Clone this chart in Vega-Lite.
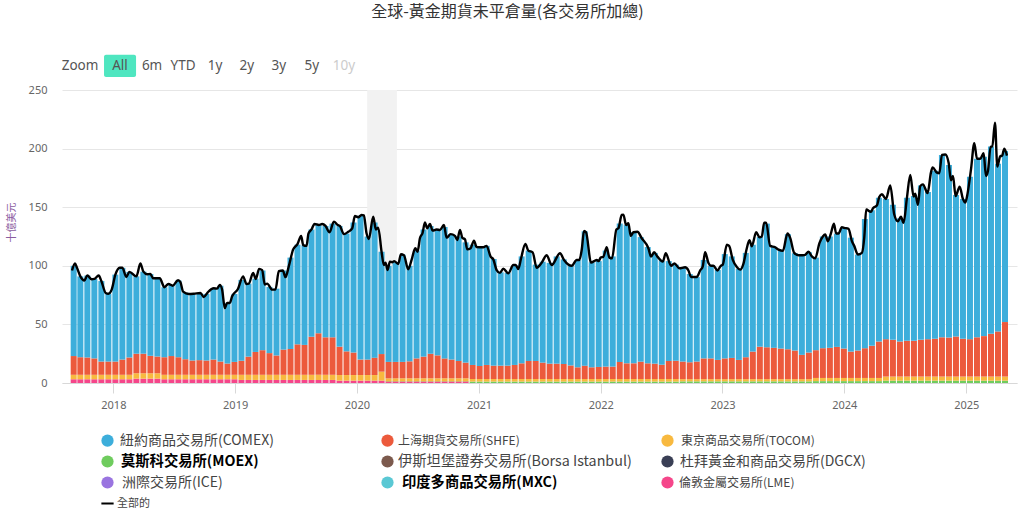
{"$schema":"https://vega.github.io/schema/vega-lite/v6.json","width":955,"height":293,"autosize":"none","padding":{"left":62,"top":90,"right":6,"bottom":130},"background":"white",
"title":{"text":"全球-黃金期貨未平倉量(各交易所加總)","anchor":"middle","dx":-32,"offset":35,"fontSize":16,"fontWeight":"normal","color":"#333333","font":"Noto Sans CJK TC"},
"config":{"view":{"stroke":null},"font":"Noto Sans"},
"datasets":{
"ex":[{"k":"l","name":"倫敦金屬交易所(LME)","rank":1},{"k":"m","name":"莫斯科交易所(MOEX)","rank":2},{"k":"b","name":"伊斯坦堡證券交易所(Borsa Istanbul)","rank":3},{"k":"t","name":"東京商品交易所(TOCOM)","rank":4},{"k":"s","name":"上海期貨交易所(SHFE)","rank":5},{"k":"c","name":"紐約商品交易所(COMEX)","rank":6}],
"band":[{"a":"2020-02-01","z":"2020-04-30"}],
"bars":[
{"d":"2017-09-04","l":3.2,"t":3.8,"s":16,"c":77},{"d":"2017-09-24","l":3.2,"t":3.8,"s":15,"c":69},{"d":"2017-10-15","l":3.2,"t":3.8,"s":14.8,"c":69.9},{"d":"2017-11-05","l":3.2,"t":3.8,"s":14,"c":67.8},{"d":"2017-11-26","l":3.2,"t":3.8,"s":11.3,"c":68.7},{"d":"2017-12-17","l":3.2,"t":3.8,"s":11.3,"c":57.9},
{"d":"2018-01-07","l":3.2,"t":3.8,"s":11.3,"c":74.2},{"d":"2018-01-28","l":3.2,"t":3.8,"s":13,"c":78.3},{"d":"2018-02-18","l":3.2,"t":3.8,"s":14.8,"c":73},{"d":"2018-03-11","l":3.7,"t":4.6,"s":16.7,"c":66},{"d":"2018-04-01","l":3.7,"t":4.6,"s":16.7,"c":70},{"d":"2018-04-22","l":3.7,"t":4.6,"s":14.9,"c":69.8},{"d":"2018-05-13","l":3.7,"t":4.6,"s":14.3,"c":66.8},{"d":"2018-06-03","l":3.2,"t":3.8,"s":15,"c":59.7},{"d":"2018-06-24","l":3.2,"t":3.8,"s":16,"c":60.7},{"d":"2018-07-15","l":3.2,"t":3.8,"s":15,"c":65.5},{"d":"2018-08-05","l":3.2,"t":3.8,"s":13.3,"c":56.7},{"d":"2018-08-26","l":3.2,"t":3.8,"s":12.2,"c":56.8},{"d":"2018-09-16","l":3.2,"t":3.8,"s":12.5,"c":57.2},{"d":"2018-10-07","l":3.2,"t":3.8,"s":12.2,"c":56.8},{"d":"2018-10-28","l":3.2,"t":3.8,"s":13,"c":60.8},{"d":"2018-11-18","l":3.2,"t":3.8,"s":11.3,"c":64.7},{"d":"2018-12-09","l":3.2,"t":3.8,"s":9.6,"c":51.4},{"d":"2018-12-30","l":3.2,"t":3.8,"s":11,"c":58},
{"d":"2019-01-20","l":2.6,"t":4.4,"s":12,"c":69},{"d":"2019-02-10","l":2.6,"t":4.4,"s":15.5,"c":62.3},{"d":"2019-03-03","l":2.6,"t":4.4,"s":19.5,"c":62.5},{"d":"2019-03-24","l":2.6,"t":4.4,"s":21,"c":68},{"d":"2019-04-14","l":2.6,"t":4.4,"s":18.5,"c":56.5},{"d":"2019-05-05","l":2.6,"t":4.4,"s":16.5,"c":57},{"d":"2019-05-26","l":2.6,"t":4.4,"s":21.5,"c":67.5},{"d":"2019-06-16","l":2.6,"t":4.4,"s":22,"c":78},{"d":"2019-07-07","l":2.6,"t":4.4,"s":26,"c":85},{"d":"2019-07-28","l":2.6,"t":4.4,"s":25.5,"c":85},{"d":"2019-08-18","l":2.6,"t":4.4,"s":32.5,"c":91.5},{"d":"2019-09-08","l":2.6,"t":4.4,"s":35.4,"c":92.6},{"d":"2019-09-29","l":2.6,"t":4.4,"s":32,"c":95},{"d":"2019-10-20","l":2.6,"t":4.4,"s":32,"c":97},{"d":"2019-11-10","l":2,"t":4.8,"s":24.2,"c":103},{"d":"2019-12-01","l":2,"t":4.8,"s":20.2,"c":100.5},{"d":"2019-12-22","l":2,"t":4.8,"s":19.2,"c":111},
{"d":"2020-01-12","l":2,"t":4.8,"s":13.2,"c":122.8},{"d":"2020-02-02","l":2,"t":4.8,"s":13.2,"c":105},{"d":"2020-02-23","l":2,"t":4.8,"s":14.8,"c":115.4},{"d":"2020-03-15","l":2,"t":7.7,"s":15,"c":87.3},{"d":"2020-04-05","l":1,"b":0.4,"t":2.6,"s":14,"c":82},{"d":"2020-04-26","l":1,"b":0.4,"t":2.6,"s":14,"c":85},{"d":"2020-05-17","l":1,"b":0.4,"t":2.6,"s":14,"c":91.5},{"d":"2020-06-07","l":1,"b":0.4,"t":2.6,"s":14.5,"c":81.5},{"d":"2020-06-28","l":1,"b":0.4,"t":2.6,"s":17,"c":92},{"d":"2020-07-19","l":1,"b":0.4,"t":2.6,"s":18.5,"c":108.5},{"d":"2020-08-09","l":1,"b":0.4,"t":2.6,"s":21,"c":109},{"d":"2020-08-30","l":1,"b":0.4,"t":2.6,"s":19.6,"c":107.4},{"d":"2020-09-20","l":1,"b":0.4,"t":2.6,"s":17,"c":112},{"d":"2020-10-11","l":1,"b":0.4,"t":2.6,"s":16,"c":107},{"d":"2020-11-01","l":1,"b":0.4,"t":2.6,"s":14.8,"c":106.2},{"d":"2020-11-22","l":1,"b":0.4,"t":2.6,"s":13.4,"c":102.6},{"d":"2020-12-13","m":1.2,"t":2.2,"s":12,"c":102.6},
{"d":"2021-01-03","m":1.2,"t":2.2,"s":11.1,"c":101.5},{"d":"2021-01-24","m":1.2,"t":2.2,"s":12,"c":101.6},{"d":"2021-02-14","m":1.2,"t":2.2,"s":11.4,"c":91},{"d":"2021-03-07","m":1.2,"t":2.2,"s":11.4,"c":79.7},{"d":"2021-03-28","m":1.2,"t":2.2,"s":11.4,"c":79.2},{"d":"2021-04-18","m":1.2,"t":2.2,"s":12,"c":85.3},{"d":"2021-05-09","m":1.2,"t":2.2,"s":13.4,"c":91.2},{"d":"2021-05-30","m":1.2,"t":2.2,"s":15.4,"c":94.2},{"d":"2021-06-20","m":1.2,"t":2.2,"s":15.4,"c":82.2},{"d":"2021-07-11","m":1.2,"t":2.2,"s":14,"c":86.1},{"d":"2021-08-01","m":1.2,"t":2.2,"s":13.1,"c":86},{"d":"2021-08-22","m":1.2,"t":2.2,"s":13.1,"c":91.5},{"d":"2021-09-12","m":1.2,"t":2.2,"s":12.8,"c":89.3},{"d":"2021-10-03","m":1.2,"t":2.2,"s":11.6,"c":85.5},{"d":"2021-10-24","m":1.2,"t":2.2,"s":10,"c":91.6},{"d":"2021-11-14","m":1.2,"t":2.2,"s":11.4,"c":114.7},{"d":"2021-12-05","m":1.2,"t":2.2,"s":10,"c":89.6},{"d":"2021-12-26","m":1.2,"t":2.2,"s":10.3,"c":90.3},
{"d":"2022-01-16","m":1.2,"t":2.2,"s":10.6,"c":99},{"d":"2022-02-06","m":1.2,"t":2.2,"s":10.6,"c":94},{"d":"2022-02-27","m":1.2,"t":2.2,"s":14.6,"c":118},{"d":"2022-03-20","m":1.2,"t":2.2,"s":13.4,"c":118.2},{"d":"2022-04-10","m":1.2,"t":2.2,"s":13.4,"c":111.8},{"d":"2022-05-01","m":1.2,"t":2.2,"s":14.8,"c":106.3},{"d":"2022-05-22","m":1.2,"t":2.2,"s":13.4,"c":99.2},{"d":"2022-06-12","m":1.2,"t":2.2,"s":13.1,"c":94.5},{"d":"2022-07-03","m":1.2,"t":2.2,"s":12.2,"c":88.9},{"d":"2022-07-24","m":1.2,"t":2.2,"s":15.4,"c":85.2},{"d":"2022-08-14","m":1.2,"t":2.2,"s":15.6,"c":82},{"d":"2022-09-04","m":1.4,"t":1.9,"s":15,"c":80},{"d":"2022-09-25","m":1.4,"t":1.9,"s":14.4,"c":75.3},{"d":"2022-10-16","m":1.4,"t":1.9,"s":15,"c":72.1},{"d":"2022-11-06","m":1.4,"t":1.9,"s":17.7,"c":84},{"d":"2022-11-27","m":1.4,"t":1.9,"s":17.7,"c":79},{"d":"2022-12-18","m":1.4,"t":1.9,"s":16.4,"c":76.8},
{"d":"2023-01-08","m":1.4,"t":1.9,"s":17.7,"c":89},{"d":"2023-01-29","m":1.4,"t":1.9,"s":18.1,"c":86.6},{"d":"2023-02-19","m":1.4,"t":1.9,"s":16.4,"c":77.8},{"d":"2023-03-12","m":1.4,"t":1.9,"s":18.7,"c":89},{"d":"2023-04-02","m":1.4,"t":1.9,"s":23.5,"c":91.2},{"d":"2023-04-23","m":1.4,"t":1.9,"s":27.7,"c":93.6},{"d":"2023-05-14","m":1.4,"t":1.9,"s":27.2,"c":105.5},{"d":"2023-06-04","m":1.4,"t":1.9,"s":26.7,"c":86},{"d":"2023-06-25","m":1.4,"t":1.9,"s":26.1,"c":83.6},{"d":"2023-07-16","m":1.4,"t":1.9,"s":25.5,"c":98.2},{"d":"2023-08-06","m":1.4,"t":1.9,"s":24.4,"c":83},{"d":"2023-08-27","m":1.4,"t":1.9,"s":20.7,"c":85},{"d":"2023-09-17","m":1.4,"t":1.9,"s":22.7,"c":85.6},{"d":"2023-10-08","m":1.6,"t":2.7,"s":23.7,"c":79},{"d":"2023-10-29","m":1.6,"t":2.7,"s":25.4,"c":95.3},{"d":"2023-11-19","m":1.6,"t":2.7,"s":25.7,"c":95},{"d":"2023-12-10","m":1.6,"t":2.7,"s":26.5,"c":96.7},{"d":"2023-12-31","m":1.6,"t":2.7,"s":25.1,"c":103.1},
{"d":"2024-01-21","m":1.6,"t":2.7,"s":22.5,"c":97.2},{"d":"2024-02-11","m":1.6,"t":2.7,"s":23.4,"c":81.9},{"d":"2024-03-03","m":1.6,"t":2.7,"s":25.4,"c":110.3},{"d":"2024-03-24","m":1.6,"t":2.7,"s":27.4,"c":115.8},{"d":"2024-04-14","m":1.6,"t":2.7,"s":31.1,"c":122.6},{"d":"2024-05-05","m":2,"t":3.5,"s":31.9,"c":119.6},{"d":"2024-05-26","m":2,"t":3.5,"s":31.3,"c":115.2},{"d":"2024-06-16","m":2,"t":3.5,"s":29.9,"c":105.1},{"d":"2024-07-07","m":2,"t":3.5,"s":30.5,"c":122},{"d":"2024-07-28","m":2,"t":3.5,"s":30.5,"c":123.5},{"d":"2024-08-18","m":2,"t":3.5,"s":31.3,"c":131.7},{"d":"2024-09-08","m":2,"t":3.5,"s":31.9,"c":125.6},{"d":"2024-09-29","m":2,"t":3.5,"s":32.2,"c":143.3},{"d":"2024-10-20","m":2,"t":3.5,"s":33.5,"c":155.6},{"d":"2024-11-10","m":2,"t":3.5,"s":33.3,"c":147.2},{"d":"2024-12-01","m":2,"t":3.5,"s":34.2,"c":120.8},{"d":"2024-12-22","m":2,"t":3.5,"s":32.2,"c":119.3},
{"d":"2025-01-12","m":2,"t":3.5,"s":31.9,"c":138.6},{"d":"2025-02-02","m":2,"t":3.5,"s":33.5,"c":152.4},{"d":"2025-02-23","m":2,"t":3.5,"s":34.5,"c":153},{"d":"2025-03-16","m":2,"t":3.5,"s":36.5,"c":159.7},{"d":"2025-04-06","m":2,"t":3.5,"s":38.5,"c":143},{"d":"2025-04-27","m":2,"t":3.5,"s":46.5,"c":146}],
"line":[
{"d":"2017-08-30","v":96},{"d":"2017-09-08","v":102},{"d":"2017-09-13","v":99},{"d":"2017-09-24","v":91},{"d":"2017-10-06","v":87.5},{"d":"2017-10-15","v":91.7},{"d":"2017-10-28","v":88.5},{"d":"2017-11-05","v":88.8},{"d":"2017-11-18","v":91.7},{"d":"2017-11-26","v":87},{"d":"2017-12-09","v":76.8},{"d":"2017-12-17","v":76.2},{"d":"2017-12-27","v":79.7},{"d":"2018-01-07","v":92.5},{"d":"2018-01-20","v":98.4},{"d":"2018-01-28","v":98.3},{"d":"2018-02-09","v":90.5},{"d":"2018-02-18","v":94.8},{"d":"2018-03-11","v":91},{"d":"2018-03-23","v":102},{"d":"2018-04-01","v":95},{"d":"2018-04-12","v":92.8},{"d":"2018-04-22","v":93},{"d":"2018-04-30","v":89.4},{"d":"2018-05-20","v":89.4},{"d":"2018-06-03","v":81.7},{"d":"2018-06-15","v":84.5},{"d":"2018-06-28","v":83},{"d":"2018-07-14","v":87.7},{"d":"2018-07-21","v":86},{"d":"2018-07-29","v":78},{"d":"2018-08-15","v":76},{"d":"2018-08-30","v":76.2},{"d":"2018-09-19","v":76.8},{"d":"2018-09-29","v":73.4},{"d":"2018-10-11","v":77.4},{"d":"2018-10-29","v":80.8},{"d":"2018-11-08","v":80.5},{"d":"2018-11-16","v":83.7},{"d":"2018-11-23","v":79.7},{"d":"2018-12-01","v":63.9},{"d":"2018-12-08","v":68.2},{"d":"2018-12-16","v":68.2},{"d":"2018-12-23","v":74},{"d":"2019-01-09","v":80},{"d":"2019-01-25","v":91},{"d":"2019-02-04","v":84.5},{"d":"2019-02-11","v":84.8},{"d":"2019-02-24","v":94},{"d":"2019-03-04","v":88.8},{"d":"2019-03-14","v":97.4},{"d":"2019-03-23","v":96.3},{"d":"2019-03-31","v":84},{"d":"2019-04-07","v":84.8},{"d":"2019-04-22","v":79.7},{"d":"2019-05-02","v":79.7},{"d":"2019-05-12","v":95.4},{"d":"2019-05-24","v":96},{"d":"2019-06-01","v":90.3},{"d":"2019-06-11","v":99.7},{"d":"2019-06-24","v":114},{"d":"2019-07-07","v":118.5},{"d":"2019-07-18","v":125.4},{"d":"2019-07-24","v":117.7},{"d":"2019-08-03","v":117},{"d":"2019-08-09","v":127.7},{"d":"2019-08-18","v":131},{"d":"2019-08-27","v":135.7},{"d":"2019-09-09","v":134.8},{"d":"2019-09-19","v":135.7},{"d":"2019-09-29","v":134},{"d":"2019-10-11","v":128.6},{"d":"2019-10-24","v":137.7},{"d":"2019-11-05","v":134.8},{"d":"2019-11-11","v":134},{"d":"2019-11-23","v":127},{"d":"2019-12-06","v":129},{"d":"2019-12-18","v":132},{"d":"2019-12-26","v":142.5},{"d":"2020-01-05","v":141.4},{"d":"2020-01-15","v":143.4},{"d":"2020-01-22","v":143},{"d":"2020-01-30","v":127.7},{"d":"2020-02-06","v":122.9},{"d":"2020-02-19","v":142},{"d":"2020-02-27","v":131},{"d":"2020-03-05","v":132.6},{"d":"2020-03-15","v":112},{"d":"2020-03-22","v":100.7},{"d":"2020-03-27","v":102.7},{"d":"2020-04-02","v":96.4},{"d":"2020-04-09","v":103.6},{"d":"2020-04-16","v":103},{"d":"2020-04-22","v":104},{"d":"2020-05-04","v":101.6},{"d":"2020-05-12","v":109.8},{"d":"2020-05-21","v":109},{"d":"2020-06-03","v":97},{"d":"2020-06-13","v":105},{"d":"2020-06-24","v":115},{"d":"2020-07-01","v":112},{"d":"2020-07-08","v":123.5},{"d":"2020-07-16","v":128},{"d":"2020-07-23","v":137},{"d":"2020-07-30","v":132},{"d":"2020-08-07","v":135.7},{"d":"2020-08-15","v":130},{"d":"2020-08-27","v":131},{"d":"2020-09-06","v":130.6},{"d":"2020-09-18","v":134.8},{"d":"2020-09-26","v":124},{"d":"2020-10-08","v":127},{"d":"2020-10-21","v":125.5},{"d":"2020-10-28","v":122},{"d":"2020-11-05","v":130.6},{"d":"2020-11-12","v":124},{"d":"2020-11-20","v":122.6},{"d":"2020-11-27","v":114},{"d":"2020-12-07","v":115},{"d":"2020-12-17","v":121.5},{"d":"2020-12-25","v":116},{"d":"2021-01-14","v":115.8},{"d":"2021-01-24","v":117},{"d":"2021-02-05","v":107.8},{"d":"2021-02-13","v":105.5},{"d":"2021-02-23","v":96.4},{"d":"2021-03-05","v":94},{"d":"2021-03-15","v":97.6},{"d":"2021-03-30","v":93.6},{"d":"2021-04-14","v":100.7},{"d":"2021-04-21","v":100.7},{"d":"2021-04-29","v":97.3},{"d":"2021-05-07","v":106},{"d":"2021-05-20","v":118.6},{"d":"2021-05-29","v":113},{"d":"2021-06-11","v":111.5},{"d":"2021-06-23","v":98.4},{"d":"2021-07-08","v":102.7},{"d":"2021-07-23","v":109},{"d":"2021-08-07","v":100.7},{"d":"2021-09-01","v":110.7},{"d":"2021-09-13","v":105},{"d":"2021-10-06","v":100},{"d":"2021-10-21","v":105},{"d":"2021-10-29","v":105},{"d":"2021-11-05","v":113.5},{"d":"2021-11-12","v":129.7},{"d":"2021-11-18","v":128.6},{"d":"2021-12-03","v":102.7},{"d":"2021-12-20","v":105},{"d":"2021-12-26","v":104},{"d":"2022-01-01","v":107},{"d":"2022-01-09","v":107.8},{"d":"2022-01-19","v":115.8},{"d":"2022-01-27","v":107},{"d":"2022-02-04","v":106.4},{"d":"2022-02-17","v":131},{"d":"2022-02-23","v":132},{"d":"2022-03-05","v":143.4},{"d":"2022-03-10","v":143.7},{"d":"2022-03-18","v":134.8},{"d":"2022-03-25","v":136.3},{"d":"2022-04-01","v":125.5},{"d":"2022-04-09","v":128.6},{"d":"2022-04-21","v":129},{"d":"2022-05-04","v":123.5},{"d":"2022-05-24","v":115},{"d":"2022-06-01","v":107.8},{"d":"2022-06-10","v":111.5},{"d":"2022-06-20","v":107.8},{"d":"2022-07-06","v":103.6},{"d":"2022-07-15","v":110.7},{"d":"2022-07-31","v":100},{"d":"2022-08-10","v":102},{"d":"2022-08-25","v":97.9},{"d":"2022-09-11","v":98.7},{"d":"2022-09-21","v":96},{"d":"2022-09-29","v":90.4},{"d":"2022-10-16","v":90.4},{"d":"2022-10-26","v":96},{"d":"2022-11-03","v":99.6},{"d":"2022-11-10","v":111.6},{"d":"2022-11-20","v":102.4},{"d":"2022-11-27","v":100},{"d":"2022-12-05","v":100},{"d":"2022-12-17","v":96},{"d":"2022-12-27","v":100},{"d":"2023-01-02","v":101},{"d":"2023-01-14","v":118},{"d":"2023-01-21","v":117},{"d":"2023-02-01","v":105},{"d":"2023-02-13","v":99},{"d":"2023-02-23","v":96.7},{"d":"2023-03-05","v":101.9},{"d":"2023-03-15","v":115},{"d":"2023-03-23","v":121.8},{"d":"2023-03-30","v":116.7},{"d":"2023-04-12","v":128.7},{"d":"2023-04-22","v":124.4},{"d":"2023-04-29","v":125},{"d":"2023-05-06","v":136.7},{"d":"2023-05-12","v":136.7},{"d":"2023-05-24","v":117},{"d":"2023-06-08","v":115.8},{"d":"2023-06-18","v":113.8},{"d":"2023-07-01","v":112.7},{"d":"2023-07-15","v":127.5},{"d":"2023-07-23","v":123.8},{"d":"2023-08-04","v":111},{"d":"2023-08-17","v":109},{"d":"2023-08-30","v":109},{"d":"2023-09-06","v":109.3},{"d":"2023-09-16","v":112},{"d":"2023-09-26","v":108},{"d":"2023-10-06","v":106.4},{"d":"2023-10-19","v":119.5},{"d":"2023-10-29","v":125},{"d":"2023-11-05","v":126.7},{"d":"2023-11-13","v":121},{"d":"2023-11-22","v":127.5},{"d":"2023-12-01","v":136},{"d":"2023-12-08","v":127.5},{"d":"2023-12-15","v":127.5},{"d":"2023-12-25","v":133},{"d":"2024-01-01","v":132.4},{"d":"2024-01-14","v":131.5},{"d":"2024-01-24","v":121},{"d":"2024-01-31","v":117},{"d":"2024-02-11","v":109.6},{"d":"2024-02-23","v":111},{"d":"2024-03-01","v":123.8},{"d":"2024-03-07","v":148},{"d":"2024-03-21","v":146},{"d":"2024-03-27","v":149},{"d":"2024-04-08","v":151.5},{"d":"2024-04-15","v":158.6},{"d":"2024-04-23","v":161},{"d":"2024-05-05","v":157},{"d":"2024-05-18","v":168.6},{"d":"2024-05-30","v":143.8},{"d":"2024-06-10","v":138},{"d":"2024-06-19","v":141.8},{"d":"2024-06-27","v":136.7},{"d":"2024-07-07","v":158},{"d":"2024-07-17","v":177.5},{"d":"2024-07-27","v":159},{"d":"2024-08-01","v":161.5},{"d":"2024-08-09","v":152},{"d":"2024-08-16","v":168},{"d":"2024-08-24","v":169.5},{"d":"2024-09-07","v":162},{"d":"2024-09-17","v":179.5},{"d":"2024-09-22","v":184},{"d":"2024-10-05","v":179.5},{"d":"2024-10-12","v":179},{"d":"2024-10-20","v":194.6},{"d":"2024-10-30","v":195},{"d":"2024-11-09","v":188},{"d":"2024-11-16","v":173},{"d":"2024-11-22","v":176.6},{"d":"2024-11-30","v":159.5},{"d":"2024-12-12","v":167.5},{"d":"2024-12-22","v":157},{"d":"2024-12-29","v":154},{"d":"2025-01-05","v":162},{"d":"2025-01-15","v":182},{"d":"2025-01-25","v":204.6},{"d":"2025-02-02","v":191.4},{"d":"2025-02-12","v":191.4},{"d":"2025-02-22","v":196},{"d":"2025-03-01","v":176.6},{"d":"2025-03-07","v":181},{"d":"2025-03-15","v":201.7},{"d":"2025-03-20","v":201.7},{"d":"2025-03-28","v":222},{"d":"2025-04-04","v":184.6},{"d":"2025-04-13","v":193.7},{"d":"2025-04-18","v":193.7},{"d":"2025-04-25","v":200},{"d":"2025-05-03","v":194}],
"btn":[{"x":"2017-09-23","y":270.5,"label":"Zoom"},{"x":"2018-01-21","y":270.5,"label":"All"},{"x":"2018-04-27","y":270.5,"label":"6m"},{"x":"2018-07-29","y":270.5,"label":"YTD"},{"x":"2018-11-02","y":270.5,"label":"1y"},{"x":"2019-02-05","y":270.5,"label":"2y"},{"x":"2019-05-12","y":270.5,"label":"3y"},{"x":"2019-08-19","y":270.5,"label":"5y"}]
},
"layer":[
{"data":{"name":"band"},"mark":{"type":"rect","color":"#f2f2f2"},"encoding":{"x":{"field":"a","type":"temporal","title":null,"scale":{"type":"utc","domain":["2017-07-31","2025-06-02"],"nice":false,"padding":0},"axis":{"format":"%Y","tickCount":"year","grid":false,"domainColor":"#d8d8d8","tickColor":"#d8d8d8","tickSize":10,"labelColor":"#666666","labelFontSize":11,"labelPadding":6,"labelFlush":false}},"x2":{"field":"z"}}},
{"data":{"name":"bars"},"transform":[{"fold":["l","m","b","t","s","c"],"as":["k","val"]},{"filter":"isValid(datum.val)"},{"lookup":"k","from":{"data":{"name":"ex"},"key":"k","fields":["name","rank"]}}],
"mark":{"type":"bar","size":6},
"encoding":{"x":{"field":"d","type":"temporal","title":null},
"y":{"field":"val","type":"quantitative","stack":"zero","title":"十億美元","scale":{"domain":[0,250],"nice":false},"axis":{"values":[0,50,100,150,200,250],"domain":false,"ticks":false,"gridColor":"#e6e6e6","labelColor":"#666666","labelFontSize":11,"labelPadding":15,"titleColor":"#8a5ca0","titleFontSize":10,"titleFontWeight":"normal","titleFont":"Noto Sans CJK TC","titleX":-46,"titleY":132}},
"order":{"field":"rank"},
"color":{"field":"name","type":"nominal","scale":{"domain":["紐約商品交易所(COMEX)","上海期貨交易所(SHFE)","東京商品交易所(TOCOM)","莫斯科交易所(MOEX)","伊斯坦堡證券交易所(Borsa Istanbul)","杜拜黃金和商品交易所(DGCX)","洲際交易所(ICE)","印度多商品交易所(MXC)","倫敦金屬交易所(LME)","全部的"],"range":["#3DAEDB","#EC5A3C","#F8B93F","#6FCC5E","#7C5A4D","#3A3F55","#9A74E0","#5AC8D4","#F5468A","#000000"]},
"legend":{"title":null,"orient":"none","direction":"horizontal","legendX":38,"legendY":343,"columns":3,"gridAlign":"all","columnPadding":25,"rowPadding":0,"symbolSize":150,"labelOffset":3,"labelLimit":300,"labelFont":"Noto Sans CJK TC","labelFontSize":13,"labelColor":"#444444",
"encoding":{"symbols":{"shape":{"value":{"expr":"datum.value==='全部的'?'stroke':'circle'"}},"stroke":{"value":{"expr":"datum.value==='全部的'?'#000':'transparent'"}},"strokeWidth":{"value":2}},
"labels":{"fontWeight":{"value":{"expr":"indexof(['莫斯科交易所(MOEX)','印度多商品交易所(MXC)'],datum.value)>=0?'bold':'normal'"}},"fill":{"value":{"expr":"indexof(['莫斯科交易所(MOEX)','印度多商品交易所(MXC)'],datum.value)>=0?'#000':'#444'"}},"dx":{"value":{"expr":"datum.value==='全部的'?-1:indexof(['倫敦金屬交易所(LME)'],datum.value)>=0?1:indexof(['紐約商品交易所(COMEX)','杜拜黃金和商品交易所(DGCX)'],datum.value)>=0?2:indexof(['東京商品交易所(TOCOM)','莫斯科交易所(MOEX)'],datum.value)>=0?3:indexof(['印度多商品交易所(MXC)','洲際交易所(ICE)'],datum.value)>=0?4:0"}},"fontSize":{"value":{"expr":"indexof(['上海期貨交易所(SHFE)','東京商品交易所(TOCOM)','倫敦金屬交易所(LME)'],datum.value)>=0?12:datum.value==='全部的'?11:indexof(['莫斯科交易所(MOEX)','印度多商品交易所(MXC)','伊斯坦堡證券交易所(Borsa Istanbul)'],datum.value)>=0?14.3:14"}}}}}}}},
{"data":{"name":"line"},"mark":{"type":"line","color":"#000000","strokeWidth":2.4,"interpolate":"monotone"},"encoding":{"x":{"field":"d","type":"temporal","title":null},"y":{"field":"v","type":"quantitative","title":"十億美元"}}},
{"data":{"values":[{"x":"2017-12-04","x2":"2018-03-10","y":261,"y2":280}]},"mark":{"type":"rect","color":"#4FE6C0","cornerRadius":2},"encoding":{"x":{"field":"x","type":"temporal","title":null},"x2":{"field":"x2"},"y":{"field":"y","type":"quantitative","title":"十億美元"},"y2":{"field":"y2"}}},
{"data":{"name":"btn"},"mark":{"type":"text","color":"#555555","fontSize":13.5,"align":"center","baseline":"middle"},"encoding":{"x":{"field":"x","type":"temporal","title":null},"y":{"field":"y","type":"quantitative","title":"十億美元"},"text":{"field":"label"}}},
{"data":{"values":[{"x":"2019-11-23","y":270.5,"label":"10y"}]},"mark":{"type":"text","color":"#cccccc","fontSize":13.5,"align":"center","baseline":"middle"},"encoding":{"x":{"field":"x","type":"temporal","title":null},"y":{"field":"y","type":"quantitative","title":"十億美元"},"text":{"field":"label"}}}
]}
